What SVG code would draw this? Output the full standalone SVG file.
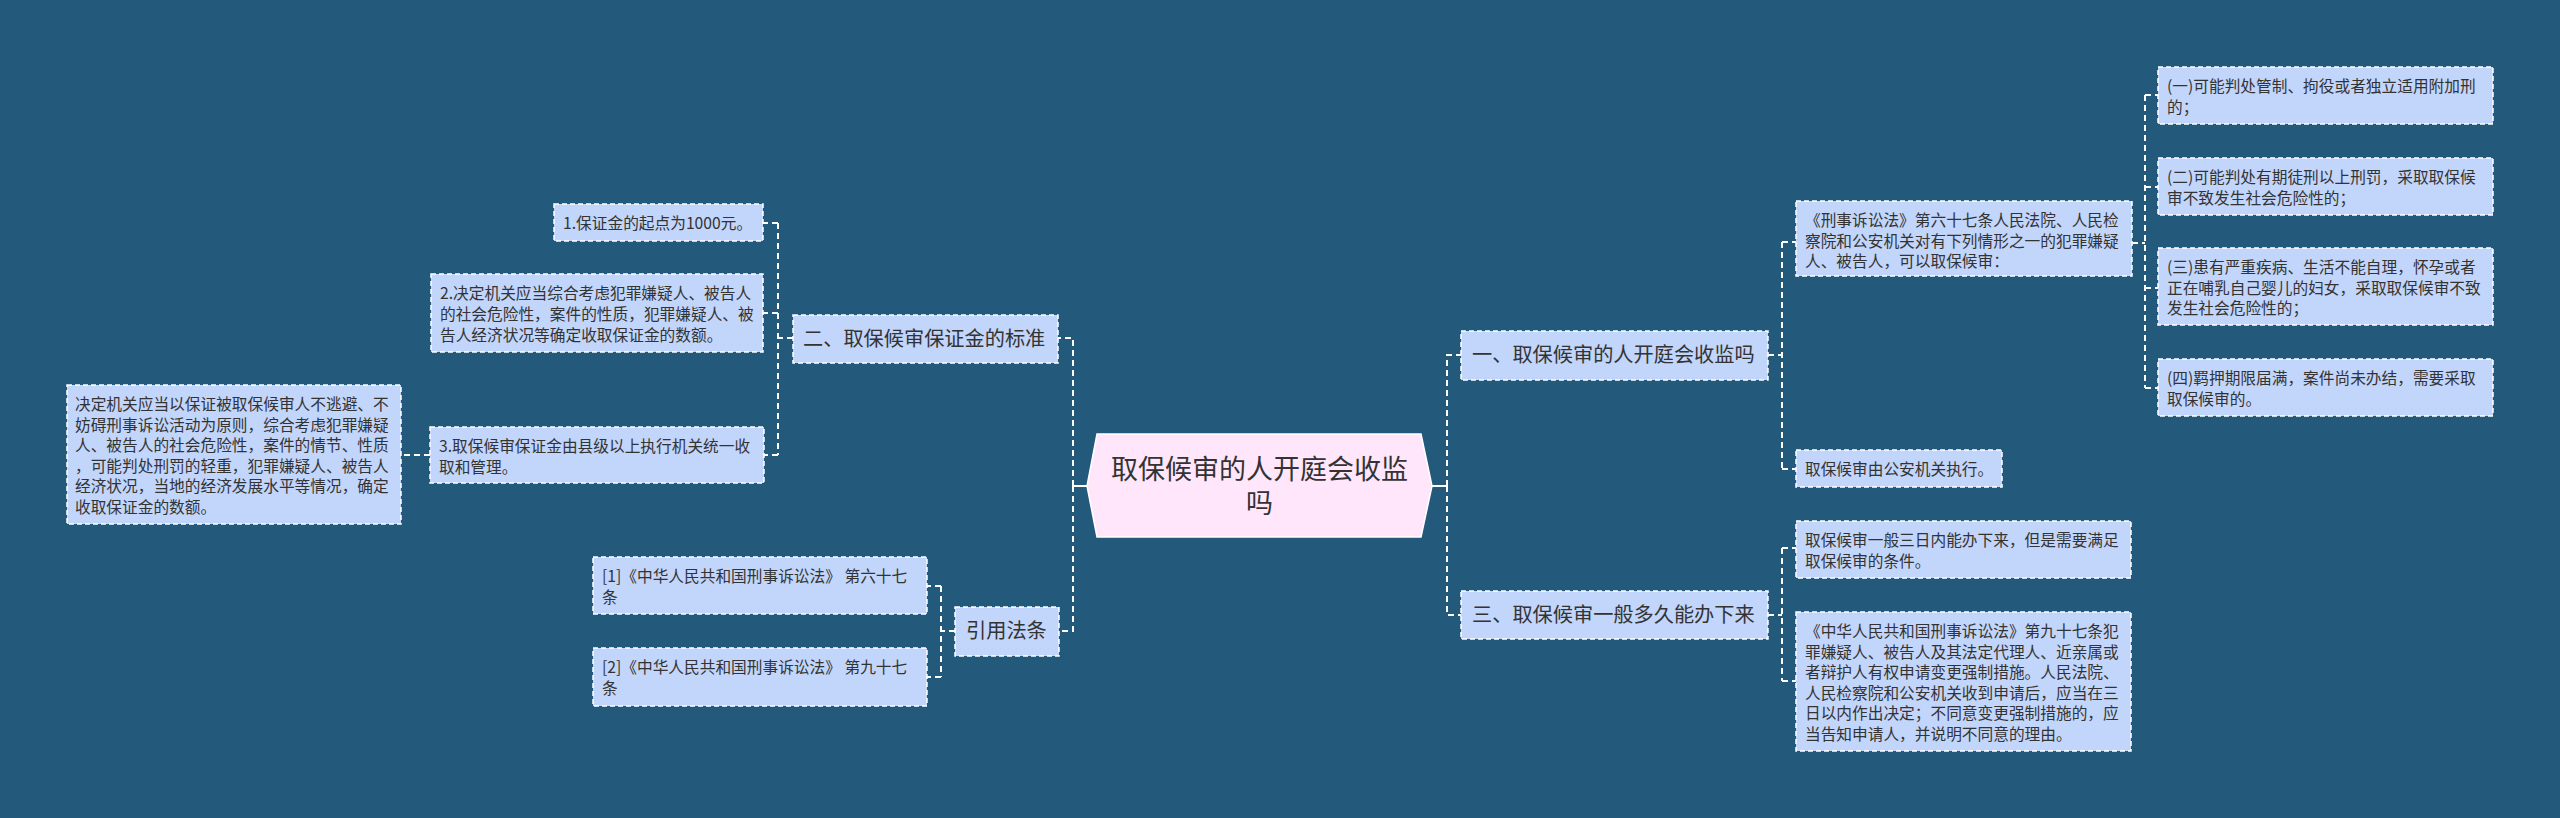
<svg xmlns="http://www.w3.org/2000/svg" width="2560" height="818" viewBox="0 0 2560 818">
<style>
.bg{fill:#235a7b}
.box{fill:#c2d5fb;stroke:#ffffff;stroke-width:1.5;stroke-dasharray:5 3}
.root{fill:#ffe6fb;stroke:#ffffff;stroke-width:1.5}
.t{font-family:"Noto Sans CJK SC","Noto Sans",sans-serif;fill:#333333}
.leaf{font-size:15.7px}
.br{font-size:20.2px}
.rt{font-size:27px}
.c{fill:none;stroke:#ffffff;stroke-width:2;stroke-dasharray:6 4}
.cs{fill:none;stroke:#ffffff;stroke-width:2}
</style>
<rect class="bg" x="0" y="0" width="2560" height="818"/>
<g id="connectors">
<path class="cs" d="M1087 486 H1073"/>
<path class="c" d="M1073 486 V338 H1058 M1073 486 V631 H1059"/>
<path class="cs" d="M1432 486 H1447"/>
<path class="c" d="M1447 486 V355 H1461 M1447 486 V615 H1461"/>
<path class="c" d="M1768 355 H1782 M1782 242 V469 M1782 242 H1796 M1782 469 H1796"/>
<path class="c" d="M2132 243 H2145 M2145 95 V388 M2145 95 H2158 M2145 187 H2158 M2145 288 H2158 M2145 388 H2158"/>
<path class="c" d="M1768 615 H1782 M1782 548 V681 M1782 548 H1796 M1782 681 H1796"/>
<path class="c" d="M793 338 H778 M778 223 V455 M778 223 H763 M778 313 H763 M778 455 H764"/>
<path class="c" d="M430 455 H401"/>
<path class="c" d="M955 631 H941 M941 586 V677 M941 586 H927 M941 677 H927"/>
</g>
<g id="root">
<polygon class="root" points="1097,434 1421,434 1432,486 1421,537 1097,537 1087,486"/>
<text class="t rt" x="1259.5" y="479" text-anchor="middle">取保候审的人开庭会收监</text>
<text class="t rt" x="1259.5" y="513" text-anchor="middle">吗</text>
</g>
<g id="b1">
<rect class="box" x="1461" y="331" width="307" height="49"/>
<text class="t br" x="1472" y="362">一、取保候审的人开庭会收监吗</text>
</g>
<g id="b3">
<rect class="box" x="1461" y="591" width="307" height="48"/>
<text class="t br" x="1472" y="622">三、取保候审一般多久能办下来</text>
</g>
<g id="b2">
<rect class="box" x="793" y="315" width="265" height="48"/>
<text class="t br" x="803" y="346">二、取保候审保证金的标准</text>
</g>
<g id="b4">
<rect class="box" x="955" y="607" width="104" height="49"/>
<text class="t br" x="966" y="638">引用法条</text>
</g>
<g id="n-b1-1">
<rect class="box" x="1796" y="201" width="336" height="75"/>
<text class="t leaf" x="1805"><tspan x="1805" y="226">《刑事诉讼法》第六十七条人民法院、人民检</tspan><tspan x="1805" y="246.5">察院和公安机关对有下列情形之一的犯罪嫌疑</tspan><tspan x="1805" y="267">人、被告人，可以取保候审：</tspan></text>
</g>
<g id="n-b1-2">
<rect class="box" x="1796" y="450" width="206" height="37"/>
<text class="t leaf" x="1805" y="475">取保候审由公安机关执行。</text>
</g>
<g id="n-c1">
<rect class="box" x="2158" y="67" width="335" height="57"/>
<text class="t leaf"><tspan x="2167" y="92">(一)可能判处管制、拘役或者独立适用附加刑</tspan><tspan x="2167" y="112.5">的；</tspan></text>
</g>
<g id="n-c2">
<rect class="box" x="2158" y="158" width="335" height="57"/>
<text class="t leaf"><tspan x="2167" y="183">(二)可能判处有期徒刑以上刑罚，采取取保候</tspan><tspan x="2167" y="203.5">审不致发生社会危险性的；</tspan></text>
</g>
<g id="n-c3">
<rect class="box" x="2158" y="248" width="335" height="77"/>
<text class="t leaf"><tspan x="2167" y="273">(三)患有严重疾病、生活不能自理，怀孕或者</tspan><tspan x="2167" y="293.5">正在哺乳自己婴儿的妇女，采取取保候审不致</tspan><tspan x="2167" y="314">发生社会危险性的；</tspan></text>
</g>
<g id="n-c4">
<rect class="box" x="2158" y="359" width="335" height="57"/>
<text class="t leaf"><tspan x="2167" y="384">(四)羁押期限届满，案件尚未办结，需要采取</tspan><tspan x="2167" y="404.5">取保候审的。</tspan></text>
</g>
<g id="n-b3-1">
<rect class="box" x="1796" y="521" width="335" height="57"/>
<text class="t leaf"><tspan x="1805" y="546">取保候审一般三日内能办下来，但是需要满足</tspan><tspan x="1805" y="566.5">取保候审的条件。</tspan></text>
</g>
<g id="n-b3-2">
<rect class="box" x="1796" y="612" width="335" height="139"/>
<text class="t leaf"><tspan x="1805" y="637">《中华人民共和国刑事诉讼法》第九十七条犯</tspan><tspan x="1805" y="657.5">罪嫌疑人、被告人及其法定代理人、近亲属或</tspan><tspan x="1805" y="678">者辩护人有权申请变更强制措施。人民法院、</tspan><tspan x="1805" y="698.5">人民检察院和公安机关收到申请后，应当在三</tspan><tspan x="1805" y="719">日以内作出决定；不同意变更强制措施的，应</tspan><tspan x="1805" y="739.5">当告知申请人，并说明不同意的理由。</tspan></text>
</g>
<g id="n-b2-1">
<rect class="box" x="554" y="204" width="209" height="37"/>
<text class="t leaf" x="563" y="229">1.保证金的起点为1000元。</text>
</g>
<g id="n-b2-2">
<rect class="box" x="431" y="274" width="332" height="78"/>
<text class="t leaf"><tspan x="440" y="299">2.决定机关应当综合考虑犯罪嫌疑人、被告人</tspan><tspan x="440" y="320">的社会危险性，案件的性质，犯罪嫌疑人、被</tspan><tspan x="440" y="341">告人经济状况等确定收取保证金的数额。</tspan></text>
</g>
<g id="n-b2-3">
<rect class="box" x="430" y="427" width="334" height="56"/>
<text class="t leaf"><tspan x="439" y="452">3.取保候审保证金由县级以上执行机关统一收</tspan><tspan x="439" y="472.5">取和管理。</tspan></text>
</g>
<g id="n-b2-3-1">
<rect class="box" x="67" y="385" width="334" height="139"/>
<text class="t leaf"><tspan x="75" y="410">决定机关应当以保证被取保候审人不逃避、不</tspan><tspan x="75" y="430.5">妨碍刑事诉讼活动为原则，综合考虑犯罪嫌疑</tspan><tspan x="75" y="451">人、被告人的社会危险性，案件的情节、性质</tspan><tspan x="75" y="471.5">，可能判处刑罚的轻重，犯罪嫌疑人、被告人</tspan><tspan x="75" y="492">经济状况，当地的经济发展水平等情况，确定</tspan><tspan x="75" y="512.5">收取保证金的数额。</tspan></text>
</g>
<g id="n-b4-1">
<rect class="box" x="593" y="557" width="334" height="57"/>
<text class="t leaf"><tspan x="602" y="582">[1]《中华人民共和国刑事诉讼法》 第六十七</tspan><tspan x="602" y="602.5">条</tspan></text>
</g>
<g id="n-b4-2">
<rect class="box" x="593" y="648" width="334" height="58"/>
<text class="t leaf"><tspan x="602" y="673">[2]《中华人民共和国刑事诉讼法》 第九十七</tspan><tspan x="602" y="693.5">条</tspan></text>
</g>
</svg>
